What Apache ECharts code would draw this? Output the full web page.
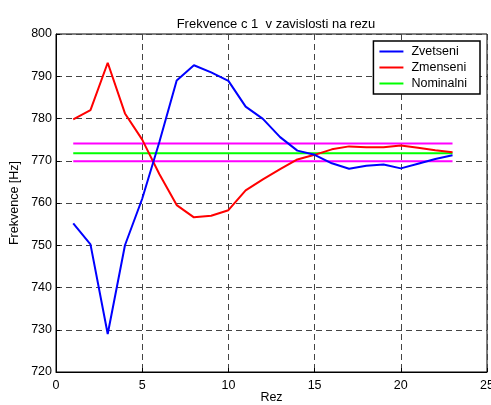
<!DOCTYPE html>
<html>
<head>
<meta charset="utf-8">
<script src="https://cdn.jsdelivr.net/npm/echarts@6/dist/echarts.min.js"></script>
<style>
  html, body { margin: 0; padding: 0; background: #fff; }
  #chart { width: 491px; height: 405px; }
</style>
</head>
<body>
<div id="chart"></div>
<script>
// rez (x)
var rez = [1, 2, 3, 4, 5, 6, 7, 8, 9, 10, 11, 12, 13, 14, 15, 16, 17, 18, 19, 20, 21, 22, 23];
// frekvence
var zvetseni = [755.2, 750.2, 729.0, 750.0, 761.0, 774.5, 789.0, 792.6, 790.9, 788.9, 782.8, 779.9, 775.6, 772.4, 771.4, 769.4, 768.1, 768.8, 769.1, 768.2, 769.3, 770.4, 771.3];
var zmenseni = [779.8, 782.0, 793.2, 781.2, 775.0, 766.8, 759.5, 756.6, 757.0, 758.3, 763.0, 765.6, 768.0, 770.3, 771.4, 772.7, 773.4, 773.2, 773.2, 773.6, 773.1, 772.5, 772.0];
var nominalni = 771.8;
var horni = 774.1;
var dolni = 769.9;

function flat(v) {
  return rez.map(function (x) { return [x, v]; });
}
function pairs(arr) {
  return rez.map(function (x, i) { return [x, arr[i]]; });
}

var font = "Liberation Sans, Arial, sans-serif";
var fs = 12.5;
var gridLine = { show: true, lineStyle: { color: "#444", type: [6, 4], width: 1 } };

var myChart = echarts.init(document.getElementById("chart"));
myChart.setOption({
  animation: false,
  backgroundColor: "#fff",
  title: {
    text: "Frekvence c 1  v zavislosti na rezu",
    left: 271, top: 13, textAlign: "center",
    textStyle: { fontFamily: font, fontSize: 13, fontWeight: "normal", color: "#000" }
  },
  grid: {
    left: 56, right: 4, top: 34, bottom: 33,
    outerBoundsMode: "none", containLabel: false,
    show: true, borderColor: "#000", borderWidth: 1
  },
  legend: {
    data: ["Zvetseni", "Zmenseni", "Nominalni"],
    orient: "vertical",
    right: 11, top: 41,
    padding: [3, 13, 3, 6],
    itemGap: 1,
    itemWidth: 24, itemHeight: 2,
    icon: "rect",
    backgroundColor: "#fff",
    borderColor: "#000", borderWidth: 1.5,
    textStyle: { fontFamily: font, fontSize: fs, lineHeight: 15, color: "#000", padding: [0, 0, 0, 3] }
  },
  xAxis: {
    type: "value", min: 0, max: 25, interval: 5,
    name: "Rez", nameLocation: "middle", nameGap: 19, nameMoveOverlap: false,
    nameTextStyle: { fontFamily: font, fontSize: fs, color: "#000" },
    axisLine: { show: true, lineStyle: { color: "#000" } },
    axisTick: { show: true, inside: true, length: 4, lineStyle: { color: "#000" } },
    axisLabel: { fontFamily: font, fontSize: fs, color: "#000", margin: 7 },
    splitLine: gridLine
  },
  yAxis: {
    type: "value", min: 720, max: 800, interval: 10,
    name: "Frekvence [Hz]", nameLocation: "middle", nameGap: 35, nameMoveOverlap: false,
    nameTextStyle: { fontFamily: font, fontSize: fs, color: "#000" },
    axisLine: { show: true, lineStyle: { color: "#000" } },
    axisTick: { show: true, inside: true, length: 4, lineStyle: { color: "#000" } },
    axisLabel: { fontFamily: font, fontSize: fs, color: "#000", margin: 4 },
    splitLine: gridLine
  },
  series: [
    { name: "Horni", type: "line", data: flat(horni), symbol: "none",
      lineStyle: { color: "#ff00ff", width: 2 }, itemStyle: { color: "#ff00ff" } },
    { name: "Dolni", type: "line", data: flat(dolni), symbol: "none",
      lineStyle: { color: "#ff00ff", width: 2 }, itemStyle: { color: "#ff00ff" } },
    { name: "Nominalni", type: "line", data: flat(nominalni), symbol: "none",
      lineStyle: { color: "#00ff00", width: 2 }, itemStyle: { color: "#00ff00" } },
    { name: "Zmenseni", type: "line", data: pairs(zmenseni), symbol: "none",
      lineStyle: { color: "#ff0000", width: 2 }, itemStyle: { color: "#ff0000" } },
    { name: "Zvetseni", type: "line", data: pairs(zvetseni), symbol: "none",
      lineStyle: { color: "#0000ff", width: 2 }, itemStyle: { color: "#0000ff" } }
  ]
});
window.addEventListener("resize", function () {
  myChart.resize();
});
</script>
</body>
</html>
